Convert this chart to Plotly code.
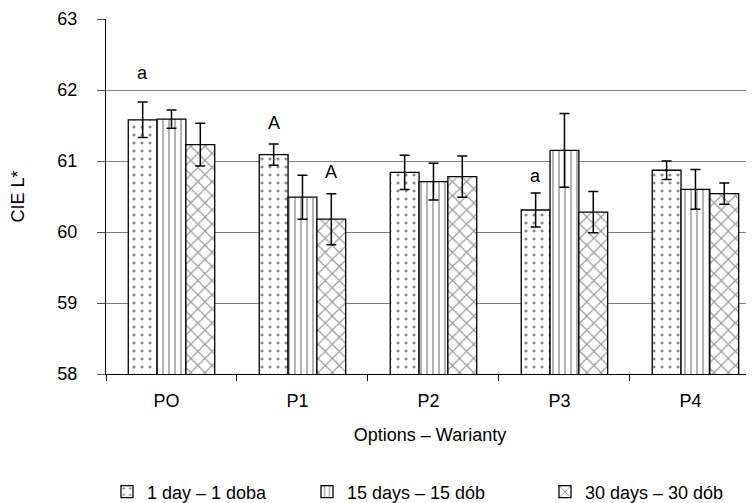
import plotly.graph_objects as go

categories = ["PO", "P1", "P2", "P3", "P4"]
series_names = ["1 day – 1 doba", "15 days – 15 dób", "30 days – 30 dób"]

day1 = [61.58, 61.09, 60.84, 60.31, 60.87]
err1 = [0.25, 0.15, 0.24, 0.24, 0.13]
day15 = [61.59, 60.49, 60.71, 61.15, 60.60]
err15 = [0.13, 0.31, 0.26, 0.52, 0.28]
day30 = [61.23, 60.18, 60.78, 60.28, 60.54]
err30 = [0.30, 0.36, 0.29, 0.29, 0.15]

y_ticks = [58, 59, 60, 61, 62, 63]

# significance letters: (text, category index, series index, y position)
letter_text = ["a", "A", "A", "a"]
letter_cat = [0, 1, 1, 3]
letter_series = [0, 0, 2, 0]
letter_y = [62.24, 61.53, 60.84, 60.79]

FONT = "Liberation Sans, Arial, Helvetica, sans-serif"
FS = 18
BARGAP = 0.34
# page body has an 8px margin; the figure is sized to fit the 754x503 window
W, H = 746, 495

patterns = [
    dict(shape=".", size=8, solidity=0.12, fgcolor="#111111", bgcolor="white"),
    dict(shape="|", size=6, solidity=0.3, fgcolor="#555555", bgcolor="white"),
    dict(shape="x", size=10, solidity=0.22, fgcolor="#333333", bgcolor="white"),
]
legend_ids = ["legend", "legend2", "legend3"]
legend_left_px = [99, 299, 537]

fig = go.Figure()
for name, vals, errs, pat, lid in zip(series_names, [day1, day15, day30], [err1, err15, err30], patterns, legend_ids):
    fig.add_trace(go.Bar(
        x=categories, y=vals, name=name, legend=lid,
        marker=dict(color="white", line=dict(color="black", width=1.3), pattern=pat),
        error_y=dict(type="data", array=errs, visible=True, color="black", thickness=1.5, width=5),
    ))

bar_w = (1 - BARGAP) / 3
annotations = []
for t, ci, si, yv in zip(letter_text, letter_cat, letter_series, letter_y):
    annotations.append(dict(
        x=ci + (si - 1) * bar_w, y=yv, xref="x", yref="y", text=t, showarrow=False,
        font=dict(size=FS, color="black", family=FONT), yanchor="middle",
    ))

legend_common = dict(orientation="h", xref="container", yref="container", xanchor="left",
                     yanchor="middle", y=1 - 484 / H, font=dict(size=FS, family=FONT),
                     bgcolor="rgba(0,0,0,0)")
layout_legends = {}
for lid, lx in zip(legend_ids, legend_left_px):
    layout_legends[lid] = dict(legend_common, x=lx / W)

fig.update_layout(
    width=W, height=H,
    margin=dict(l=98, r=0, t=11, b=129, autoexpand=False),
    paper_bgcolor="white", plot_bgcolor="white",
    barmode="group", bargap=BARGAP, bargroupgap=0,
    font=dict(family=FONT, size=FS, color="black"),
    showlegend=True,
    annotations=annotations,
    **layout_legends,
)
fig.update_xaxes(
    range=[-0.5, 4.447], showline=True, linecolor="black", linewidth=1,
    ticks="outside", tickson="boundaries", ticklen=6, tickcolor="black",
    ticklabelshift=-5, ticklabelstandoff=10,
    title=dict(text="Options – Warianty", font=dict(size=FS), standoff=18),
    showgrid=False, automargin=False,
)
fig.update_yaxes(
    range=[58, 63], tickvals=y_ticks, showline=True, linecolor="black", linewidth=1,
    ticks="outside", ticklen=8, tickcolor="#555555", ticklabelstandoff=16,
    showgrid=True, gridcolor="#808080", gridwidth=1, zeroline=False,
    title=dict(text="CIE L*", font=dict(size=FS), standoff=36),
    automargin=False,
)

fig.write_html("out.html")
